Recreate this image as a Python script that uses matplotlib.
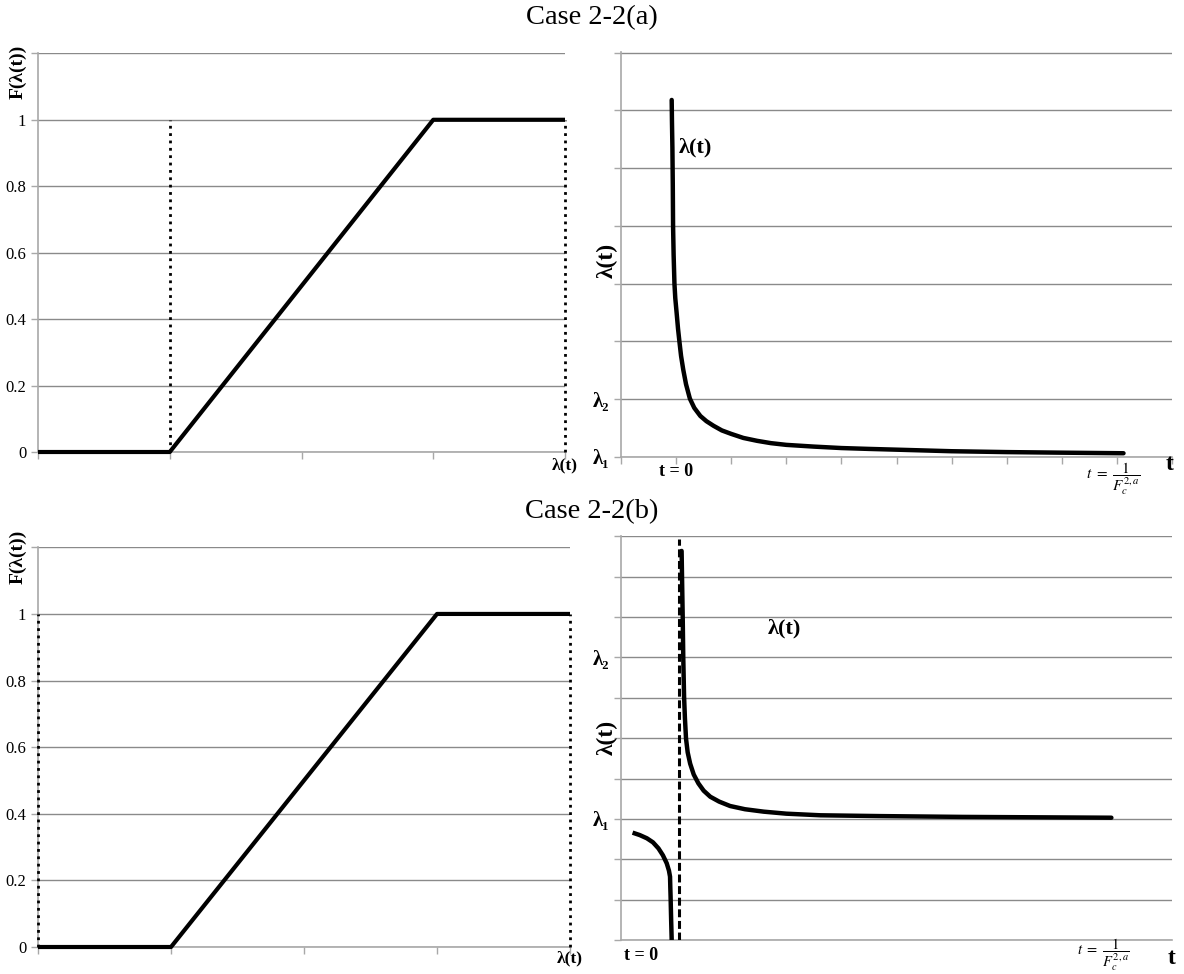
import matplotlib
matplotlib.use("Agg")
import matplotlib.pyplot as plt

plt.rcParams["font.family"] = ["Liberation Serif", "DejaVu Serif"]
plt.rcParams["mathtext.fontset"] = "stix"

# ---- distribution function F(lambda(t)) (left panels) ----
cdf_x = [0, 1, 3, 4]
cdf_y = [0, 0, 1, 1]
cdf_yticks = [0, 0.2, 0.4, 0.6, 0.8, 1.0, 1.2]
cdf_yticklabels = ["0", "0.2", "0.4", "0.6", "0.8", "1", ""]
cdf_xticks = [0, 1, 2, 3, 4]
guides_a = [1, 4]
guides_b = [0, 4]

# ---- lambda(t) trajectory, case (a) ----
lam_a_t = [0.92, 0.925, 0.933, 0.94, 0.945, 0.955, 0.97, 0.985, 1.01,
           1.035, 1.06, 1.09, 1.13, 1.18, 1.25, 1.33, 1.44, 1.55, 1.68,
           1.83, 2.0, 2.22, 2.47, 2.72, 3.0, 3.5, 4.0, 4.5, 5.07, 6.0,
           7.0, 8.0, 9.12]
lam_a_v = [6.18, 5.8, 5.35, 4.7, 4.0, 3.5, 3.0, 2.75, 2.49,
           2.22, 2.0, 1.75, 1.51, 1.26, 1.01, 0.85, 0.71, 0.62, 0.54,
           0.46, 0.40, 0.33, 0.28, 0.24, 0.21, 0.18, 0.155, 0.14, 0.125,
           0.10, 0.085, 0.075, 0.065]
a_yticks = list(range(8))
a_yticklabels = ["λ₁", "λ₂", "", "", "", "", "", ""]

# ---- lambda(t) trajectory, case (b) ----
lam_b_right_t = [1.10, 1.11, 1.12, 1.13, 1.145, 1.16, 1.18, 1.21, 1.255,
                 1.32, 1.405, 1.5, 1.62, 1.78, 1.98, 2.25, 2.59, 3.0,
                 3.62, 4.71, 6.2, 8.9]
lam_b_right_v = [9.64, 8.8, 8.0, 7.0, 6.02, 5.5, 4.99, 4.65, 4.37,
                 4.1, 3.88, 3.7, 3.55, 3.43, 3.32, 3.24, 3.18, 3.13,
                 3.09, 3.07, 3.05, 3.03]
lam_b_left_t = [0.21, 0.34, 0.47, 0.58, 0.68, 0.76, 0.83, 0.87, 0.89,
                0.895, 0.90, 0.91, 0.92]
lam_b_left_v = [2.66, 2.60, 2.52, 2.42, 2.27, 2.10, 1.90, 1.72, 1.57,
                1.30, 1.07, 0.5, 0.0]
asymptote_b = 1.06
asymptote_top = 9.93
b_yticks = list(range(11))
b_yticklabels = ["", "", "", "λ₁", "", "", "", "λ₂", "", "", ""]

GRID = "#8a8a8a"
SPINE = "#a8a8a8"
W, H = 1184, 974

fig = plt.figure(figsize=(W / 100, H / 100), dpi=100)


def px_axes(x0, y0, x1, y1):
    return fig.add_axes([x0 / W, 1 - y1 / H, (x1 - x0) / W, (y1 - y0) / H])


def style(ax):
    for s in ("top", "right"):
        ax.spines[s].set_visible(False)
    for s in ("left", "bottom"):
        ax.spines[s].set_color(SPINE)
        ax.spines[s].set_linewidth(1.2)
    ax.grid(axis="y", color=GRID, lw=1.0)
    ax.grid(axis="x", visible=False)
    ax.set_axisbelow(True)
    ax.tick_params(direction="out", length=5, width=1, color=SPINE,
                   labelsize=12)


def below(ax, x, dy_px, s, **kw):
    ax.annotate(s, xy=(x, 0), xycoords=("data", "axes fraction"),
                xytext=(0, -dy_px * 0.72), textcoords="offset points",
                ha="center", va="center", annotation_clip=False, **kw)


def curve(ax, t, v, cap="round"):
    ax.plot(t, v, color="black", lw=3.2, zorder=4, solid_capstyle=cap,
            solid_joinstyle="round")


def cdf_panel(ax, guides, xlab_dy):
    style(ax)
    ax.set_xlim(0, 4)
    ax.set_ylim(0, 1.201)
    ax.set_yticks(cdf_yticks)
    ax.set_yticklabels(cdf_yticklabels)
    ax.set_xticks(cdf_xticks)
    ax.set_xticklabels([])
    ax.vlines(guides, 0, 1, colors="black", lw=2.0,
              linestyles=[(0, (1, 1.65))], zorder=3, clip_on=False)
    ax.plot(cdf_x, cdf_y, color="black", lw=3.0, zorder=4,
            solid_capstyle="butt", clip_on=False)
    below(ax, 4, xlab_dy, "λ(t)", fontsize=12.5, fontweight="bold")


# top-left
ax1 = px_axes(38, 53, 565, 452)
cdf_panel(ax1, guides_a, 13)

# bottom-left
ax3 = px_axes(38, 547, 570, 947)
cdf_panel(ax3, guides_b, 11)

frac = r"$t\ =\ \dfrac{1}{F_c^{2,a}}$"

# top-right
ax2 = px_axes(621, 52, 1172, 457)
style(ax2)
ax2.set_xlim(0, 10)
ax2.set_ylim(0, 7.01)
ax2.set_yticks(a_yticks)
ax2.set_yticklabels(a_yticklabels, fontsize=15, fontweight="bold")
ax2.set_xticks(range(11))
ax2.set_xticklabels([])
curve(ax2, lam_a_t, lam_a_v)
ax2.text(1.04, 5.35, "λ(t)", fontsize=16, fontweight="bold",
         ha="left", va="center")
below(ax2, 1.0, 15, "t = 0", fontsize=13, fontweight="bold")
below(ax2, 8.93, 22, frac, fontsize=11)
below(ax2, 9.95, 8, "t", fontsize=17, fontweight="bold")

# bottom-right
ax4 = px_axes(621, 536, 1172, 940)
style(ax4)
ax4.set_xlim(0, 10)
ax4.set_ylim(0, 10.01)
ax4.set_yticks(b_yticks)
ax4.set_yticklabels(b_yticklabels, fontsize=15, fontweight="bold")
ax4.set_xticks([])
ax4.vlines([asymptote_b], 0, asymptote_top, colors="black", lw=2.2,
           linestyles=[(0, (2.6, 1.2))], zorder=3)
curve(ax4, lam_b_right_t, lam_b_right_v)
curve(ax4, lam_b_left_t, lam_b_left_v, cap="butt")
ax4.text(2.96, 7.72, "λ(t)", fontsize=16, fontweight="bold",
         ha="center", va="center")
below(ax4, 0.36, 16, "t = 0", fontsize=13, fontweight="bold")
below(ax4, 8.76, 15, frac, fontsize=10.5)
below(ax4, 10.0, 19, "t", fontsize=17, fontweight="bold")

# axis titles and case headings
fig.text(18 / W, 1 - 72 / H, "F(λ(t))", rotation=90, ha="center",
         va="center", fontsize=14, fontweight="bold")
fig.text(18 / W, 1 - 557 / H, "F(λ(t))", rotation=90, ha="center",
         va="center", fontsize=14, fontweight="bold")
fig.text(607 / W, 1 - 260 / H, "λ(t)", rotation=90, ha="center",
         va="center", fontsize=17, fontweight="bold")
fig.text(607 / W, 1 - 737 / H, "λ(t)", rotation=90, ha="center",
         va="center", fontsize=17, fontweight="bold")
fig.text(592 / W, 1 - 18 / H, "Case 2-2(a)", ha="center", va="center",
         fontsize=20.5)
fig.text(592 / W, 1 - 512 / H, "Case 2-2(b)", ha="center", va="center",
         fontsize=20.5)

fig.savefig("out.png", dpi=100, facecolor="white")
